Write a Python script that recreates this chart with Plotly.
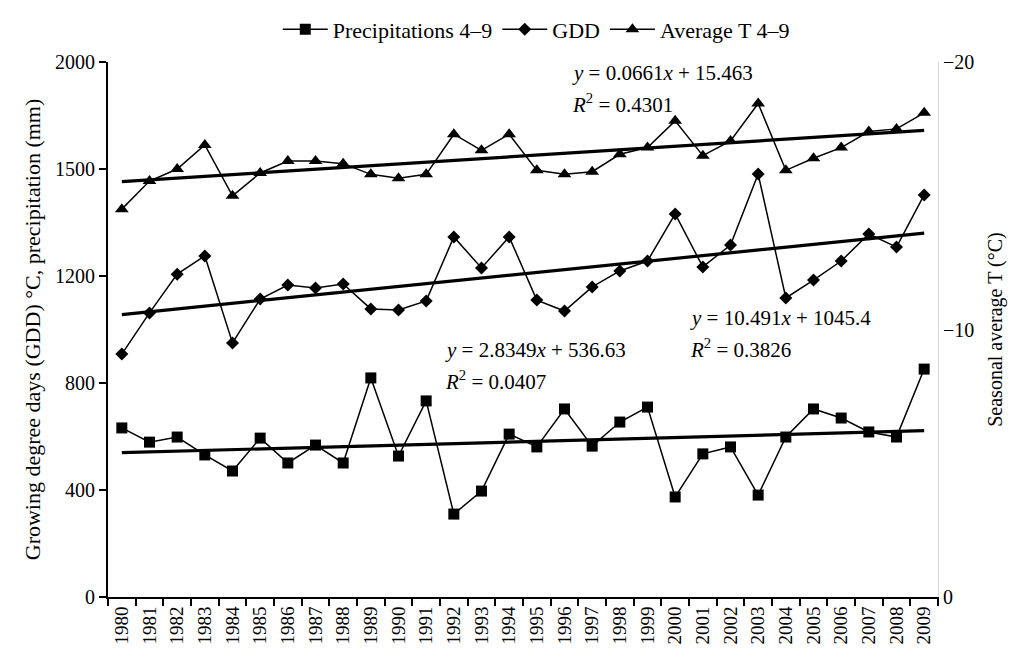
import plotly.graph_objects as go

years = [str(y) for y in range(1980, 2010)]
precip = [632, 579, 598, 531, 471, 594, 501, 568, 501, 819,
          527, 733, 310, 396, 609, 561, 703, 564, 654, 710,
          374, 535, 561, 381, 598, 703, 669, 617, 598, 852]
gdd = [908, 1062, 1207, 1275, 950, 1114, 1166, 1155, 1170, 1077,
       1073, 1107, 1346, 1230, 1346, 1110, 1069, 1159, 1219, 1256,
       1432, 1234, 1316, 1581, 1118, 1185, 1256, 1357, 1308, 1503]
avg_t = [14.5, 15.55, 16.0, 16.9, 15.0, 15.85, 16.3, 16.3, 16.2, 15.8,
         15.65, 15.8, 17.3, 16.7, 17.3, 15.95, 15.8, 15.9, 16.55, 16.8,
         17.8, 16.5, 17.05, 18.45, 15.95, 16.4, 16.8, 17.4, 17.5, 18.1]

# trendline coefficients (slope, intercept) as printed on the chart, x = 1..30
trend_precip = (2.8349, 536.63)
trend_gdd = (10.491, 1045.4)
trend_t = (0.0661, 15.463)

left_tickvals = [0, 400, 800, 1200, 1600, 2000]
left_ticktext = ["0", "400", "800", "1200", "1500", "2000"]
right_tickvals = [0, 10, 20]
right_ticktext = ["0", "\u221210", "\u221220"]

xs = list(range(1, len(years) + 1))
def trend(coef):
    return [coef[0] * x + coef[1] for x in xs]

FONT = "Liberation Serif, DejaVu Serif, serif"
fig = go.Figure()

fig.add_trace(go.Scatter(x=years, y=precip, name="Precipitations 4\u20139",
                         mode="lines+markers", line=dict(color="black", width=1.5),
                         marker=dict(symbol="square", size=11, color="black")))
fig.add_trace(go.Scatter(x=years, y=gdd, name="GDD",
                         mode="lines+markers", line=dict(color="black", width=1.5),
                         marker=dict(symbol="diamond", size=10, color="black")))
fig.add_trace(go.Scatter(x=years, y=avg_t, name="Average T 4\u20139", yaxis="y2",
                         mode="lines+markers", line=dict(color="black", width=1.5),
                         marker=dict(symbol="triangle-up", size=12, color="black")))

fig.add_trace(go.Scatter(x=years, y=trend(trend_precip), mode="lines", showlegend=False,
                         line=dict(color="black", width=3.2), hoverinfo="skip"))
fig.add_trace(go.Scatter(x=years, y=trend(trend_gdd), mode="lines", showlegend=False,
                         line=dict(color="black", width=3.2), hoverinfo="skip"))
fig.add_trace(go.Scatter(x=years, y=trend(trend_t), mode="lines", showlegend=False, yaxis="y2",
                         line=dict(color="black", width=3.2), hoverinfo="skip"))

ann_font = dict(family=FONT, size=21, color="black")
annotations = [
    ("<i>y</i> = 0.0661<i>x</i> + 15.463", 0.557, 0.979),
    ("<i>R</i><sup>2</sup> = 0.4301", 0.557, 0.923),
    ("<i>y</i> = 10.491<i>x</i> + 1045.4", 0.699, 0.521),
    ("<i>R</i><sup>2</sup> = 0.3826", 0.699, 0.464),
    ("<i>y</i> = 2.8349<i>x</i> + 536.63", 0.404, 0.462),
    ("<i>R</i><sup>2</sup> = 0.0407", 0.404, 0.404),
]
for text, ax, ay in annotations:
    fig.add_annotation(text=text, x=ax, y=ay, xref="paper", yref="paper",
                       xanchor="left", yanchor="middle", showarrow=False, font=ann_font)

# right axis title
fig.add_annotation(text="Seasonal average T (\u00b0C)", x=1.069, y=0.5, xref="paper", yref="paper",
                   xanchor="center", yanchor="middle", textangle=-90, showarrow=False,
                   font=dict(family=FONT, size=20, color="black"))

fig.update_layout(
    width=1000, height=644,
    margin=dict(l=100, r=70, t=54, b=55, autoexpand=False),
    paper_bgcolor="white", plot_bgcolor="white",
    font=dict(family=FONT, size=20, color="black"),
    showlegend=True,
    legend=dict(orientation="h", x=0.516, xanchor="center", y=1.1, yanchor="top",
                font=dict(family=FONT, size=22), itemwidth=45, tracegroupgap=0,
                bgcolor="rgba(0,0,0,0)"),
    xaxis=dict(type="category", range=[-0.5, 29.5], autorange=False, showgrid=False,
               showline=True, linecolor="black", linewidth=2,
               ticks="outside", tickson="boundaries", ticklen=7, tickwidth=2, tickcolor="black",
               tickangle=-90, tickfont=dict(family=FONT, size=19), zeroline=False,
               automargin=False),
    yaxis=dict(range=[0, 2000], tickvals=left_tickvals, ticktext=left_ticktext,
               showgrid=False, showline=True, linecolor="black", linewidth=2,
               ticks="outside", ticklen=7, tickwidth=2, tickcolor="black", zeroline=False,
               tickfont=dict(family=FONT, size=20), automargin=False,
               title=dict(text="Growing degree days (GDD) \u00b0C, precipitation (mm)",
                          font=dict(family=FONT, size=22), standoff=8)),
    yaxis2=dict(range=[0, 20], overlaying="y", side="right", tickvals=right_tickvals,
                ticktext=right_ticktext, showgrid=False, showline=True, linecolor="#d9d9d9",
                linewidth=1, ticks="", zeroline=False, tickfont=dict(family=FONT, size=20),
                automargin=False),
)

fig.write_html("out.html")
